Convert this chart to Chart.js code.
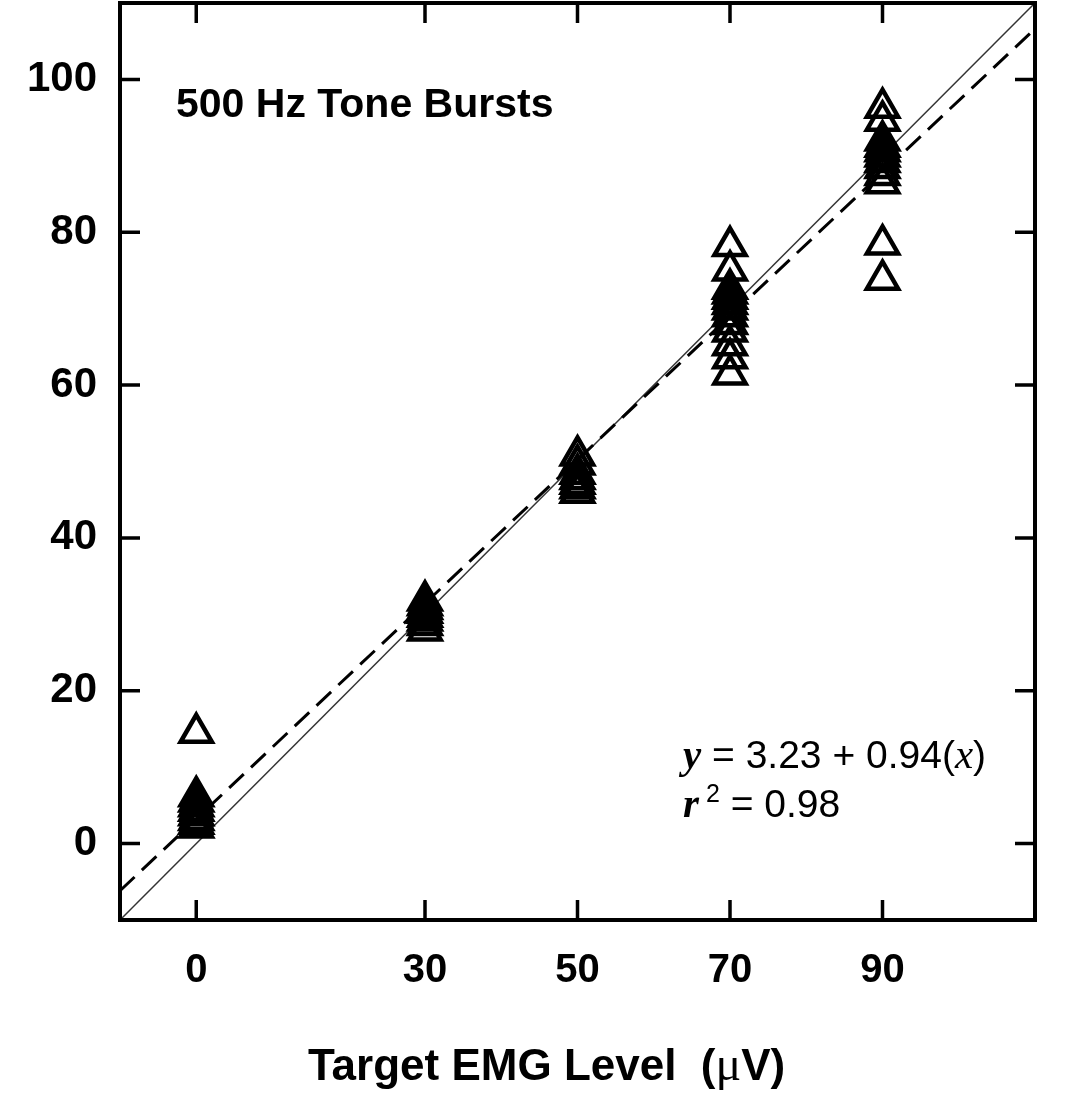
<!DOCTYPE html>
<html>
<head>
<meta charset="utf-8">
<script src="https://cdn.jsdelivr.net/npm/chart.js@4.4.1/dist/chart.umd.min.js"></script>
<style>
  html, body { margin: 0; padding: 0; background: #fff; }
  #wrap { width: 1074px; height: 1106px; }
</style>
</head>
<body>
<div id="wrap"><canvas id="emgChart"></canvas></div>
<script>
// target EMG levels (x) and the measured values at each level (y)
const targetLevels = [0, 30, 50, 70, 90];
const measuredAt0  = [14.5, 6.2, 5.5, 4.9, 4.3, 3.7, 3.1, 2.6, 2.1];
const measuredAt30 = [31.8, 31.2, 30.7, 30.2, 29.7, 29.2, 28.6, 27.9];
const measuredAt50 = [50.8, 49.6, 48.4, 47.7, 47.1, 46.5, 45.9];
const measuredAt70 = [78.2, 75.0, 72.6, 72.0, 71.3, 70.6, 69.9, 69.0, 68.0, 67.0, 65.2, 63.5, 61.4];
const measuredAt90 = [96.3, 94.6, 92.0, 91.2, 90.6, 89.9, 89.2, 88.4, 87.5, 86.4, 78.4, 73.8];
const yTickValues = [0, 20, 40, 60, 80, 100];

// regression printed on the figure
const fitIntercept = 3.23;
const fitSlope = 0.94;
const lineEnds = [-10, 110];

const measured = [measuredAt0, measuredAt30, measuredAt50, measuredAt70, measuredAt90];
const scatterPoints = [];
targetLevels.forEach((lvl, i) => {
  measured[i].forEach(v => scatterPoints.push({ x: lvl, y: v }));
});

const SANS = '"Liberation Sans", Arial, sans-serif';
const SERIF = '"Liberation Serif", "Times New Roman", serif';

// draw a run of text pieces with different fonts on one baseline
function drawRuns(ctx, x, y, runs) {
  let cx = x;
  runs.forEach(r => {
    ctx.font = r.font;
    ctx.fillText(r.text, cx, y + (r.dy || 0));
    cx += ctx.measureText(r.text).width;
  });
}

const framePlugin = {
  id: 'framePlugin',
  afterDraw(chart) {
    const { ctx, chartArea, scales } = chart;
    const { left, right, top, bottom } = chartArea;
    const tick = 20;

    ctx.save();
    ctx.strokeStyle = '#000';
    ctx.lineWidth = 4;
    ctx.strokeRect(left, top, right - left, bottom - top);

    ctx.lineWidth = 3.5;
    ctx.beginPath();
    targetLevels.forEach(v => {
      const px = scales.x.getPixelForValue(v);
      ctx.moveTo(px, bottom); ctx.lineTo(px, bottom - tick);
      ctx.moveTo(px, top); ctx.lineTo(px, top + tick);
    });
    yTickValues.forEach(v => {
      const py = scales.y.getPixelForValue(v);
      ctx.moveTo(left, py); ctx.lineTo(left + tick, py);
      ctx.moveTo(right, py); ctx.lineTo(right - tick, py);
    });
    ctx.stroke();

    ctx.fillStyle = '#000';
    ctx.textAlign = 'left';
    ctx.textBaseline = 'alphabetic';

    ctx.font = 'bold 41px ' + SANS;
    ctx.fillText('500 Hz Tone Bursts', 176, 117);

    drawRuns(ctx, 683, 768, [
      { text: 'y', font: 'bold italic 41px ' + SERIF },
      { text: ' = 3.23 + 0.94(', font: '39px ' + SANS },
      { text: 'x', font: 'italic 41px ' + SERIF },
      { text: ')', font: '39px ' + SANS }
    ]);
    drawRuns(ctx, 683, 817, [
      { text: 'r', font: 'bold italic 41px ' + SERIF },
      { text: ' 2', font: '25px ' + SANS, dy: -15 },
      { text: ' = 0.98', font: '39px ' + SANS }
    ]);

    drawRuns(ctx, 308, 1080, [
      { text: 'Target EMG Level  (', font: 'bold 44px ' + SANS },
      { text: '\u03BC', font: '48px ' + SERIF },
      { text: 'V)', font: 'bold 44px ' + SANS }
    ]);
    ctx.restore();
  }
};

const emgChart = new Chart(document.getElementById('emgChart'), {
  type: 'scatter',
  data: {
    datasets: [
      {
        label: 'Measured',
        data: scatterPoints,
        pointStyle: 'triangle',
        pointRadius: 18,
        pointHoverRadius: 18,
        pointBorderWidth: 4.5,
        pointBackgroundColor: 'rgba(0,0,0,0)',
        pointBorderColor: '#000',
        showLine: false,
        order: 0
      },
      {
        label: 'Identity',
        type: 'line',
        data: lineEnds.map(v => ({ x: v, y: v })),
        borderColor: '#333',
        borderWidth: 1.5,
        pointRadius: 0,
        fill: false,
        order: 2
      },
      {
        label: 'Fit',
        type: 'line',
        data: lineEnds.map(v => ({ x: v, y: fitIntercept + fitSlope * v })),
        borderColor: '#000',
        borderWidth: 3,
        borderDash: [20, 10],
        pointRadius: 0,
        fill: false,
        order: 1
      }
    ]
  },
  options: {
    responsive: true,
    maintainAspectRatio: false,
    animation: false,
    events: [],
    layout: { autoPadding: false, padding: { top: 3, right: 39, left: 0, bottom: 0 } },
    scales: {
      x: {
        type: 'linear',
        min: -10,
        max: 110,
        afterBuildTicks: s => { s.ticks = targetLevels.map(v => ({ value: v })); },
        afterFit: s => { s.height = 186; s.paddingLeft = 0; s.paddingRight = 0; },
        grid: { display: false, drawTicks: false },
        border: { display: false },
        ticks: {
          autoSkip: false,
          maxRotation: 0,
          padding: 27,
          color: '#000',
          font: { family: SANS, size: 40, weight: 'bold' }
        }
      },
      y: {
        type: 'linear',
        min: -10,
        max: 110,
        afterBuildTicks: s => { s.ticks = yTickValues.map(v => ({ value: v })); },
        afterFit: s => { s.width = 120; s.paddingTop = 0; s.paddingBottom = 0; },
        grid: { display: false, drawTicks: false },
        border: { display: false },
        ticks: {
          autoSkip: false,
          padding: 23,
          color: '#000',
          font: { family: SANS, size: 42, weight: 'bold' }
        }
      }
    },
    plugins: {
      legend: { display: false },
      tooltip: { enabled: false }
    }
  },
  plugins: [framePlugin]
});
</script>
</body>
</html>
